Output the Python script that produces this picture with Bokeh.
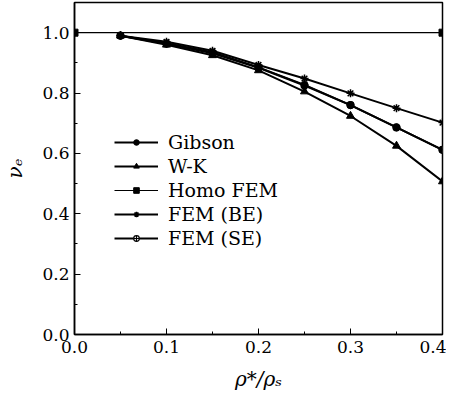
from bokeh.plotting import figure
from bokeh.models import Range1d, FixedTicker, Legend, LegendItem, CustomJSTickFormatter
from bokeh.embed import file_html
from bokeh.resources import INLINE

# data
x_vals = [0.05, 0.10, 0.15, 0.20, 0.25, 0.30, 0.35, 0.40]
gibson = [0.99, 0.965, 0.935, 0.885, 0.827, 0.760, 0.686, 0.612]
wk = [0.99, 0.960, 0.925, 0.875, 0.805, 0.724, 0.625, 0.507]
fem_be = [0.99, 0.970, 0.940, 0.893, 0.848, 0.799, 0.750, 0.702]
fem_se = [0.99, 0.963, 0.932, 0.884, 0.825, 0.760, 0.686, 0.612]
homo_x = [0.0, 0.4]
homo_y = [1.0, 1.0]
x_ticks = [0.0, 0.1, 0.2, 0.3, 0.4]
y_ticks = [0.0, 0.2, 0.4, 0.6, 0.8, 1.0]

FONT = "DejaVu Serif"

p = figure(output_backend="svg", toolbar_location=None,
           frame_width=368, frame_height=332,
           min_border_left=65, min_border_right=4, min_border_top=2, min_border_bottom=45,
           x_range=Range1d(0, 0.4), y_range=Range1d(0, 1.1))
p.background_fill_color = "white"
p.border_fill_color = "white"
p.outline_line_color = "black"
p.outline_line_width = 1.5
p.xgrid.visible = False
p.ygrid.visible = False

fmt = CustomJSTickFormatter(code="return tick.toFixed(1);")
p.xaxis.ticker = FixedTicker(ticks=x_ticks, minor_ticks=[0.05, 0.15, 0.25, 0.35])
p.yaxis.ticker = FixedTicker(ticks=y_ticks, minor_ticks=[0.1, 0.3, 0.5, 0.7, 0.9])
for ax in (p.xaxis[0], p.yaxis[0]):
    ax.formatter = fmt
    ax.axis_line_color = "black"
    ax.axis_line_width = 1.5
    ax.major_tick_in = 6
    ax.major_tick_out = 0
    ax.minor_tick_in = 3
    ax.minor_tick_out = 0
    ax.major_tick_line_color = "black"
    ax.minor_tick_line_color = "black"
    ax.major_label_text_font = FONT
    ax.major_label_text_font_size = "17px"
    ax.major_label_text_color = "black"
    ax.axis_label_text_font = FONT
    ax.axis_label_text_font_style = "italic"
    ax.axis_label_text_font_size = "20px"
    ax.axis_label_text_color = "black"
p.xaxis.major_label_standoff = 6
p.yaxis.major_label_standoff = 5
p.xaxis.axis_label = "ρ*/ρₛ"
p.yaxis.axis_label = "νₑ"
p.xaxis.axis_label_standoff = 11
p.yaxis.axis_label_standoff = 12

r_h_l = p.line(homo_x, homo_y, line_color="black", line_width=1.2)
r_h_m = p.scatter(homo_x, homo_y, marker="square", size=7, color="black")

r_s_l = p.line(x_vals, fem_se, line_color="black", line_width=2)
r_s_m = p.scatter(x_vals, fem_se, marker="circle_cross", size=7, line_color="black",
                  fill_color="white", line_width=1.2)

r_g_l = p.line(x_vals, gibson, line_color="black", line_width=2)
r_g_m = p.scatter(x_vals, gibson, marker="circle", size=7, color="black")

r_w_l = p.line(x_vals, wk, line_color="black", line_width=2)
r_w_m = p.scatter(x_vals, wk, marker="triangle", size=8, color="black")

r_b_l = p.line(x_vals, fem_be, line_color="black", line_width=2)
r_b_m = p.scatter(x_vals, fem_be, marker="asterisk", size=8, line_color="black", line_width=1.5)

legend = Legend(items=[
    LegendItem(label="Gibson", renderers=[r_g_l, r_g_m]),
    LegendItem(label="W-K", renderers=[r_w_l, r_w_m]),
    LegendItem(label="Homo FEM", renderers=[r_h_l, r_h_m]),
    LegendItem(label="FEM (BE)", renderers=[r_b_l, r_b_m]),
    LegendItem(label="FEM (SE)", renderers=[r_s_l, r_s_m]),
], location=(40, 85))
legend.padding = 0
legend.margin = 0
legend.spacing = 2
legend.glyph_width = 44
legend.glyph_height = 14
legend.label_height = 14
legend.label_standoff = 10
legend.border_line_color = None
legend.background_fill_alpha = 0
legend.label_text_font = FONT
legend.label_text_font_size = "19px"
legend.label_text_color = "black"
p.add_layout(legend, "center")

open("out.html", "w").write(file_html(p, INLINE))
